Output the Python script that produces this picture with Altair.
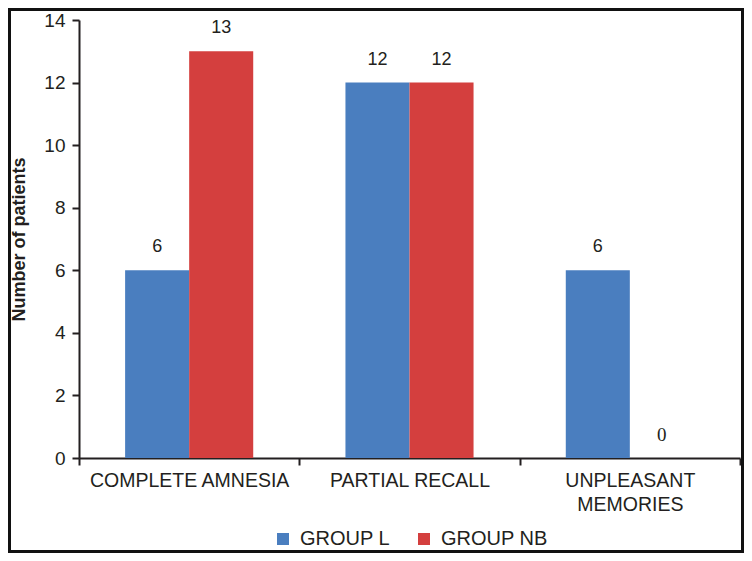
import altair as alt
import pandas as pd

categories = ["COMPLETE AMNESIA", "PARTIAL RECALL", "UNPLEASANT MEMORIES"]
groups = ["GROUP L", "GROUP NB"]
group_l = [6, 12, 6]
group_nb = [13, 12, 0]
colors = ["#4a7ebf", "#d43f3e"]

rows = []
for c, a, b in zip(categories, group_l, group_nb):
    rows.append({"category": c, "group": groups[0], "value": a})
    rows.append({"category": c, "group": groups[1], "value": b})
df = pd.DataFrame(rows)

W, H = 661, 438
FONT = "Liberation Sans"
INK = "#231f20"

x_enc = alt.X(
    "category:N",
    sort=categories,
    title=None,
    scale=alt.Scale(paddingInner=0, paddingOuter=0),
    axis=alt.Axis(
        labelAngle=0,
        labelFontSize=19.5,
        labelColor=INK,
        labelPadding=6,
        labelLineHeight=24,
        labelBaseline="top",
        labelLimit=400,
        tickBand="extent",
        tickSize=7,
        tickWidth=2,
        tickColor=INK,
        domainColor=INK,
        domainWidth=2,
        labelExpr="datum.value == 'UNPLEASANT MEMORIES' ? ['UNPLEASANT', 'MEMORIES'] : datum.label",
    ),
)
y_enc = alt.Y(
    "value:Q",
    title="Number of patients",
    scale=alt.Scale(domain=[0, 14], nice=False),
    axis=alt.Axis(
        values=[0, 2, 4, 6, 8, 10, 12, 14],
        grid=False,
        labelFontSize=19,
        labelColor=INK,
        labelPadding=7,
        tickSize=7,
        tickWidth=2,
        tickColor=INK,
        domainColor=INK,
        domainWidth=2,
        titleFontSize=18,
        titleFontWeight="bold",
        titleColor=INK,
        titlePadding=15,
    ),
)
xoff = alt.XOffset("group:N", sort=groups, scale=alt.Scale(paddingInner=0, paddingOuter=0.72))

bars = alt.Chart(df).mark_bar().encode(
    x=x_enc,
    xOffset=xoff,
    y=y_enc,
    color=alt.Color(
        "group:N",
        sort=groups,
        scale=alt.Scale(domain=groups, range=colors),
        legend=alt.Legend(
            title=None,
            orient="none",
            direction="horizontal",
            legendX=194,
            legendY=509,
            symbolType="square",
            symbolSize=144,
            symbolStrokeWidth=0,
            labelFontSize=20,
            labelColor=INK,
            columnPadding=23,
            labelOffset=7,
            labelLimit=300,
        ),
    ),
)

labels = alt.Chart(df).mark_text(
    baseline="middle", dy=-23, fontSize=18, font=FONT, color=INK
).encode(
    x=alt.X("category:N", sort=categories),
    xOffset=xoff,
    y="value:Q",
    text="value:Q",
).transform_filter("datum.value > 0")

zero_labels = alt.Chart(df).mark_text(
    baseline="middle", dy=-23, fontSize=19, font="Liberation Serif", color=INK
).encode(
    x=alt.X("category:N", sort=categories),
    xOffset=xoff,
    y="value:Q",
    text="value:Q",
).transform_filter("datum.value == 0")

frame = alt.Chart(df).mark_rect(
    fill=None, stroke="#111111", strokeWidth=3, clip=False
).encode(
    x=alt.value(-69.5), x2=alt.value(663.5), y=alt.value(-10.5), y2=alt.value(531.5)
)

chart = (
    alt.layer(bars, labels, zero_labels, frame)
    .properties(
        width=W,
        height=H,
        autosize=alt.AutoSizeParams(type="none"),
        padding={"left": 71, "top": 12, "right": 4, "bottom": 95},
    )
    .configure(font=FONT)
    .configure_view(stroke=None)
)

chart.save("out.html", embed_options={"renderer": "svg", "actions": False})
